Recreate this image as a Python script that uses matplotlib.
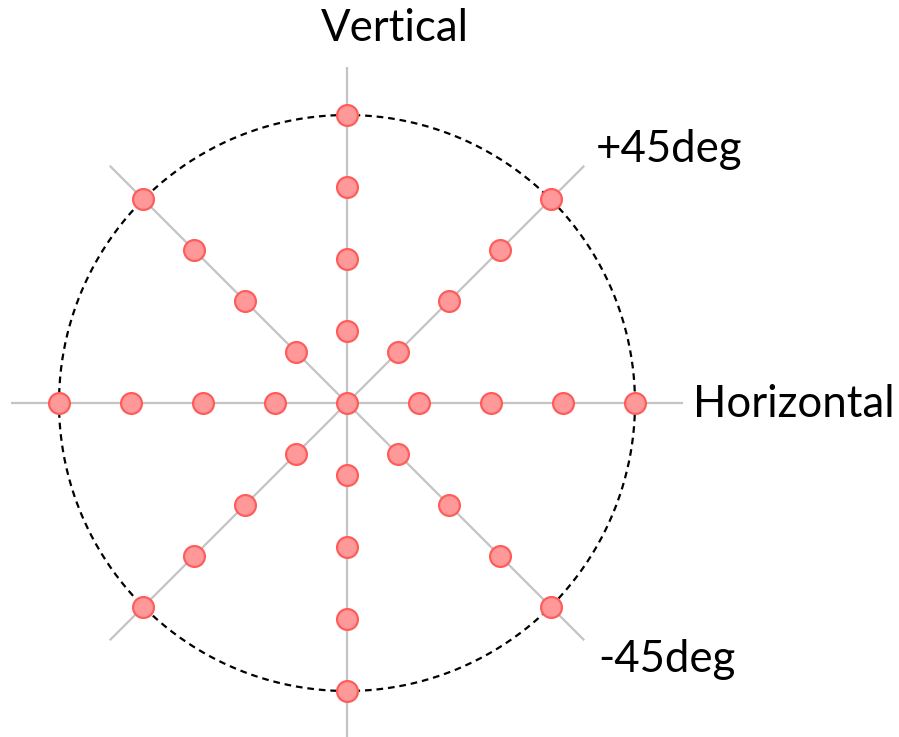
import numpy as np
import matplotlib
matplotlib.use("Agg")
import matplotlib.pyplot as plt

# polarisation directions (deg) and sample radii (fraction of circle radius)
angles = [0, 45, 90, 135, 180, 225, 270, 315]
radii = [0.25, 0.5, 0.75, 1.0]
labels = ["Horizontal", "+45deg", "Vertical", "-45deg"]
label_pos = [(1.20, -0.005), (0.862, 0.88), (0.167, 1.30), (0.872, -0.89)]
label_ha = ["left", "left", "center", "left"]

plt.rcParams['font.family'] = ['Lato', 'DejaVu Sans']

fig = plt.figure(figsize=(8.99, 7.37), dpi=100)
ax = fig.add_axes([0, 0, 1, 1])
scale = 288.0
ax.set_xlim(-347 / scale, (899 - 347) / scale)
ax.set_ylim(-334 / scale, 403 / scale)
ax.axis('off')

line_len = 1.165
for a in angles:
    t = np.radians(a)
    ax.plot([0, line_len * np.cos(t)], [0, line_len * np.sin(t)],
            color='#c4c4c4', lw=1.6, zorder=1, solid_capstyle='butt')

th = np.linspace(0, 2 * np.pi, 400)
ax.plot(np.cos(th), np.sin(th), color='black', lw=1.6, ls=(0, (3, 2.2)), zorder=2)

xs = [0.0]
ys = [0.0]
for a in angles:
    t = np.radians(a)
    for r in radii:
        xs.append(r * np.cos(t))
        ys.append(r * np.sin(t))
ax.plot(xs, ys, 'o', ms=15, mfc='#ff9999', mec='#ff5c5c', mew=1.6, zorder=3)

for lab, (x, y), ha in zip(labels, label_pos, label_ha):
    ax.text(x, y, lab, fontsize=31.5, ha=ha, va='center', color='black')

fig.savefig("out.png", dpi=100)
